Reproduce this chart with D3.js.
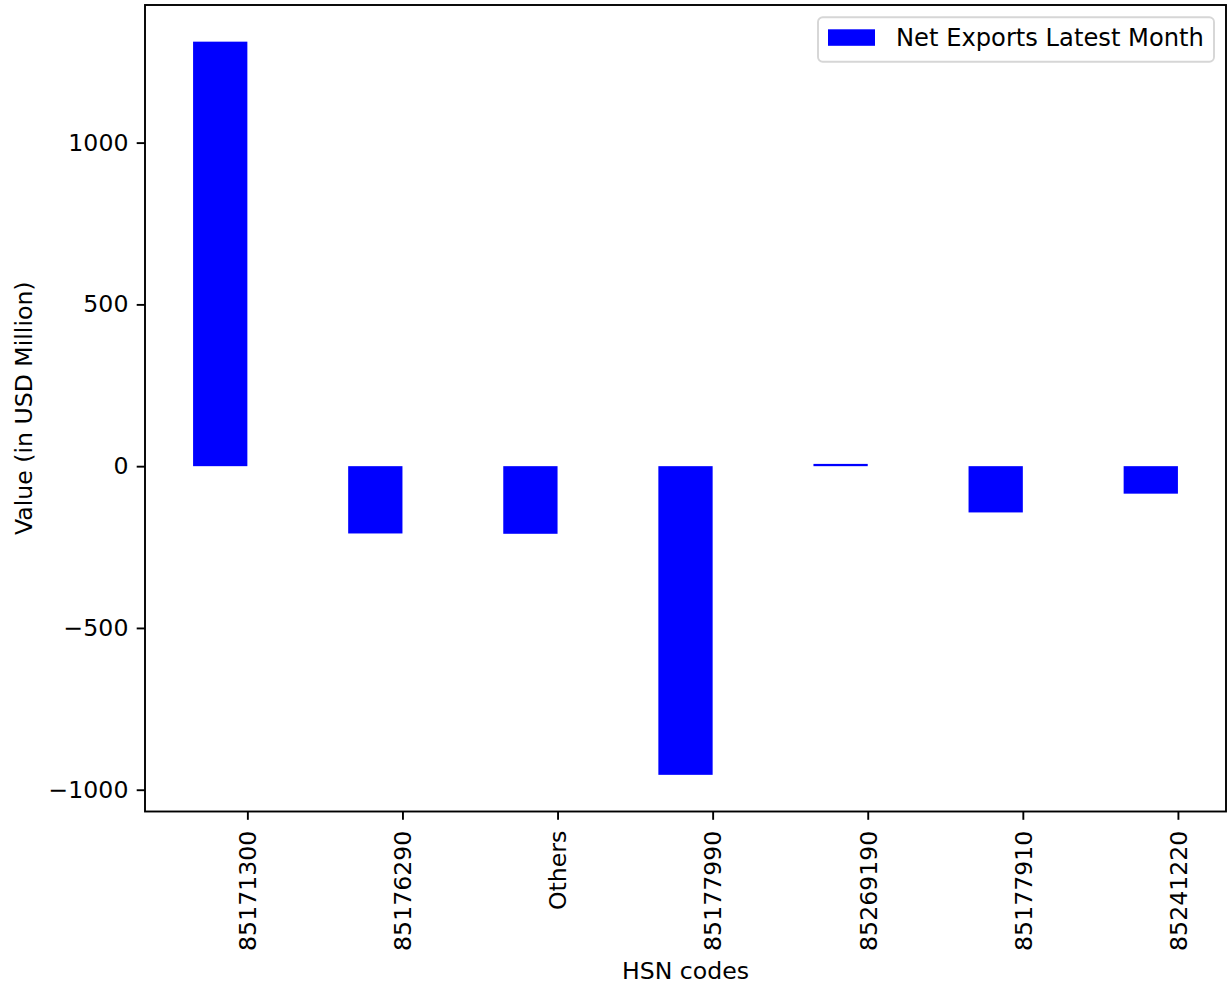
<!DOCTYPE html>
<html>

<head>
    <meta charset='utf-8'>
</head>
<style>
    body {
        margin: 0;
        background: #fff;
    }

    text {
        font-family: "DejaVu Sans", sans-serif;
        fill: #000;
    }

    .bar {
        fill: #0000ff;
    }
</style>

<body>
    <div id='chart'></div>
    <script src="https://d3js.org/d3.v7.min.js"></script>
    <script>
        var categories = ["85171300", "85176290", "Others", "85177990", "85269190", "85177910", "85241220"];
        var netExports = [1312, -208, -209, -954, 7, -143, -85];
        var yTicks = [-1000, -500, 0, 500, 1000];
        var seriesName = "Net Exports Latest Month";

        var width = 1231;
        var height = 987;
        var fs = 23.6;      // 10pt at this scale
        var tickLen = 8.3;

        var plot = { left: 145, right: 1226, top: 5, bottom: 811.5 };

        var svg = d3.select('#chart')
            .append('svg')
            .attr('width', width)
            .attr('height', height);

        // bars sit to the left of their tick, like pandas with position=1
        var barWidth = 0.35;
        var x = d3.scaleLinear()
            .domain([-0.66, categories.length - 1 + 0.31])
            .range([plot.left, plot.right]);

        var ymin = d3.min(netExports), ymax = d3.max(netExports);
        var pad = (ymax - ymin) * 0.05;
        var y = d3.scaleLinear()
            .domain([ymin - pad, ymax + pad])
            .range([plot.bottom, plot.top]);

        svg.selectAll('.bar')
            .data(netExports)
            .enter().append('rect')
            .attr('class', 'bar')
            .attr('x', function(d, i) { return x(i - barWidth); })
            .attr('width', function(d, i) { return x(i) - x(i - barWidth); })
            .attr('y', function(d) { return y(Math.max(0, d)); })
            .attr('height', function(d) { return Math.abs(y(d) - y(0)); });

        // y axis
        var yAxis = d3.axisLeft(y)
            .tickValues(yTicks)
            .tickFormat(d3.format('d'))
            .tickSizeInner(tickLen)
            .tickSizeOuter(0)
            .tickPadding(8.3);

        var gy = svg.append('g')
            .attr('transform', 'translate(' + plot.left + ',0)')
            .call(yAxis);
        gy.select('.domain').remove();
        gy.selectAll('.tick line').attr('stroke', '#000').attr('stroke-width', 1.9);
        gy.selectAll('.tick text')
            .style('font-family', '"DejaVu Sans", sans-serif')
            .style('font-size', fs + 'px')
            .attr('fill', '#000');

        // x axis, labels turned upright
        var xAxis = d3.axisBottom(x)
            .tickValues(d3.range(categories.length))
            .tickFormat(function(i) { return categories[i]; })
            .tickSizeInner(tickLen)
            .tickSizeOuter(0);

        var gx = svg.append('g')
            .attr('transform', 'translate(0,' + plot.bottom + ')')
            .call(xAxis);
        gx.select('.domain').remove();
        gx.selectAll('.tick line').attr('stroke', '#000').attr('stroke-width', 1.9);
        gx.selectAll('.tick text')
            .style('font-family', '"DejaVu Sans", sans-serif')
            .style('font-size', fs + 'px')
            .attr('fill', '#000')
            .attr('text-anchor', 'end')
            .attr('y', 0)
            .attr('dy', '0.35em')
            .attr('transform', 'translate(0,' + (tickLen + 11) + ') rotate(-90)');

        // frame
        svg.append('rect')
            .attr('x', plot.left)
            .attr('y', plot.top)
            .attr('width', plot.right - plot.left)
            .attr('height', plot.bottom - plot.top)
            .attr('fill', 'none')
            .attr('stroke', '#000')
            .attr('stroke-width', 1.9);

        // axis titles
        svg.append('text')
            .attr('x', (plot.left + plot.right) / 2)
            .attr('y', 979)
            .attr('text-anchor', 'middle')
            .style('font-size', fs + 'px')
            .text('HSN codes');

        svg.append('text')
            .attr('transform', 'translate(32,' + (plot.top + plot.bottom) / 2 + ') rotate(-90)')
            .attr('text-anchor', 'middle')
            .style('font-size', fs + 'px')
            .text('Value (in USD Million)');

        // legend
        var legend = svg.append('g')
            .attr('transform', 'translate(818,17.3)');
        legend.append('rect')
            .attr('width', 396)
            .attr('height', 44.4)
            .attr('rx', 4.7)
            .attr('fill', '#fff')
            .attr('fill-opacity', 0.8)
            .attr('stroke', '#d6d6d6')
            .attr('stroke-width', 1.9);
        legend.append('rect')
            .attr('class', 'bar')
            .attr('x', 10)
            .attr('y', 12)
            .attr('width', 47)
            .attr('height', 16.5);
        legend.append('text')
            .attr('x', 78)
            .attr('y', 29)
            .style('font-size', '24.2px')
            .text(seriesName);
    </script>
</body>

</html>
